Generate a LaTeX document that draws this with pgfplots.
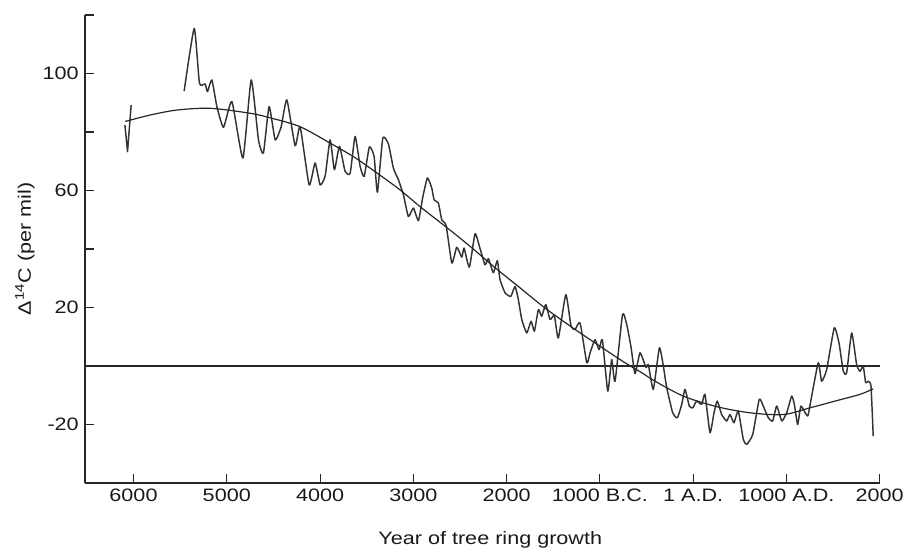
\documentclass[border=0pt]{standalone}
\usepackage{fontspec}
\setmainfont{Liberation Sans}[FakeStretch=1.2]
\usepackage{pgfplots}
\pgfplotsset{compat=1.18}
\pgfplotstableread{
year val
-5457 94.0
-5349 115.4
-5293 96.7
-5232 96.4
-5207 93.8
-5160 97.8
-5106 88.7
-5035 81.6
-4945 90.4
-4827 71.1
-4738 97.8
-4660 77.3
-4607 72.8
-4546 88.7
-4481 77.3
-4417 81.8
-4356 91.0
-4267 75.3
-4213 81.8
-4117 61.9
-4053 69.4
-3999 61.9
-3945 65.0
-3892 77.3
-3846 67.1
-3792 75.1
-3731 66.5
-3677 65.9
-3624 78.5
-3570 68.2
-3527 64.8
-3471 74.9
-3420 71.6
-3385 59.4
-3327 77.9
-3267 75.9
-3213 67.6
-3160 63.7
-3106 58.5
-3053 51.1
-2999 54.0
-2945 49.7
-2898 57.8
-2849 64.3
-2802 60.8
-2777 56.8
-2731 55.7
-2695 50.0
-2648 48.0
-2587 35.2
-2534 40.6
-2480 37.2
-2456 40.3
-2399 33.8
-2338 45.2
-2284 40.1
-2231 34.6
-2195 36.7
-2142 31.9
-2099 36.0
-2070 29.5
-2016 25.0
-1955 23.8
-1909 27.2
-1874 22.7
-1837 15.9
-1784 11.3
-1737 15.3
-1702 11.9
-1659 19.3
-1623 17.0
-1580 21.0
-1534 15.9
-1488 17.2
-1445 9.6
-1365 24.4
-1309 13.6
-1266 12.5
-1212 14.7
-1140 1.1
-1105 4.5
-1052 9.0
-1009 5.6
-973 9.0
-915 -8.6
-873 2.2
-837 -5.2
-757 17.6
-712 14.2
-666 6.5
-623 -2.6
-569 4.5
-505 -0.5
-480 0.5
-427 -8.0
-362 6.2
-319 -0.1
-283 -7.4
-219 -16.0
-169 -17.7
-122 -13.1
-87 -8.0
-41 -13.7
-4 -14.3
38 -12.0
92 -13.1
127 -9.7
181 -22.8
224 -16.0
259 -12.0
306 -16.6
360 -18.8
395 -16.6
438 -19.4
484 -15.4
538 -25.1
574 -26.8
639 -23.4
709 -11.4
752 -13.7
806 -17.7
853 -18.8
896 -13.7
950 -18.8
1003 -16.0
1057 -10.3
1085 -13.1
1121 -20.0
1156 -13.7
1228 -17.1
1271 -10.3
1342 1.1
1378 -5.2
1432 -1.2
1513 13.0
1564 7.9
1610 -1.8
1646 -2.3
1700 11.3
1753 0.5
1789 -1.8
1824 -0.1
1850 -5.7
1878 -5.2
1907 -6.9
1931 -24.0
}\mainseries
\pgfplotstableread{
year val
-6092 82.4
-6064 73.3
-6025 89.2
}\firstpiece
\pgfplotstableread{
year val
-6089 83.6
-5821 85.8
-5535 87.5
-5178 88.1
-4749 86.4
-4517 84.7
-4213 81.8
-3892 76.2
-3624 71.2
-3338 64.8
-3142 60.2
-2909 54.0
-2659 47.8
-2391 40.9
-2123 33.6
-1855 26.7
-1587 19.8
-1266 12.5
-944 5.6
-730 1.1
-551 -2.3
-408 -5.2
-105 -10.3
253 -13.9
610 -16.0
967 -16.6
1253 -14.3
1521 -12.0
1789 -9.7
1931 -7.8
}\fitcurve
\begin{document}
\fontsize{13.5}{15}\selectfont
\begin{tikzpicture}
\path[use as bounding box] (-63.75pt,-51.75pt) rectangle (615.75pt,362.25pt);
\begin{axis}[
  at={(0,0)}, anchor=south west,
  scale only axis, width=596pt, height=351pt,
  xmin=-6520, xmax=2000, ymin=-40, ymax=120,
  axis x line*=bottom, axis y line*=left,
  axis line style={-, line width=0.8pt, black!85},
  xtick={-6000,-5000,...,2000},
  xticklabels={6000,5000,4000,3000,2000,1000 B.C.,1 A.D.,1000 A.D.,2000},
  ytick={-20,0,...,120},
  yticklabels={-20,,20,,60,,100,},
  xtick pos=bottom, ytick pos=left,
  tick align=inside, major tick length=6.5pt,
  tick style={line width=0.8pt, black!85},
  tick label style={font=\fontsize{13.5}{15}\selectfont, text=black!90},
  xlabel={Year of tree ring growth},
  ylabel={Δ\textsuperscript{14}C (per mil)},
  label style={font=\fontsize{13.5}{15}\selectfont, text=black!90},
  xlabel style={at={(axis description cs:0.51,-0.122)}, anchor=center},
  ylabel style={at={(axis description cs:-0.0755,0.5)}, anchor=center},
  clip=false,
]
\addplot[line width=0.8pt, black!85] coordinates {(-6520,0) (2000,0)};
\addplot[line width=1.1pt, black!80, line join=round, smooth, tension=0.3] table[x=year,y=val] {\mainseries};
\addplot[line width=1.1pt, black!80, line join=round] table[x=year,y=val] {\firstpiece};
\addplot[line width=0.9pt, black!85, smooth] table[x=year,y=val] {\fitcurve};
\end{axis}
\end{tikzpicture}
\end{document}
